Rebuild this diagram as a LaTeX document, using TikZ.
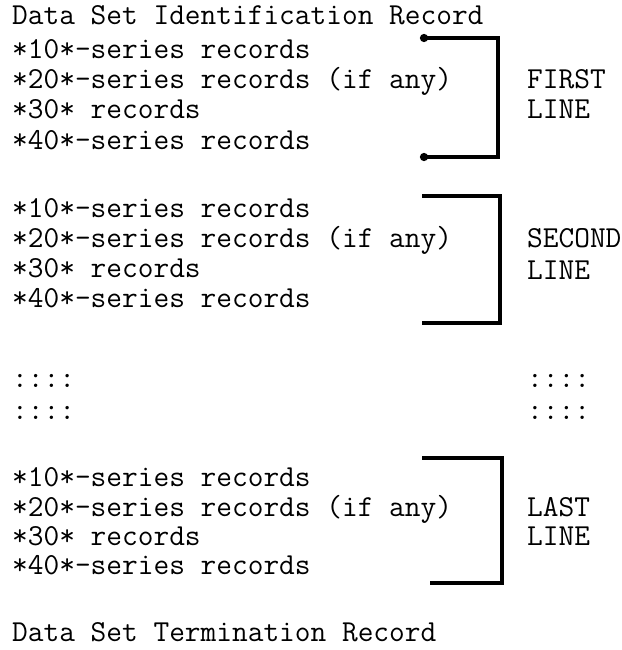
\documentclass[tikz,border=0pt]{standalone}
\usepackage{fontspec}
\usetikzlibrary{arrows.meta}
\newcommand{\recfont}{\fontsize{30.5}{32}\selectfont\ttfamily\addfontfeatures{FakeBold=3}}
\tikzset{
  rec/.style={anchor=west, inner sep=0pt, text height=18pt, text depth=0pt, font=\recfont},
  lab/.style={rec},
  brk/.style={line width=3.4pt, line join=miter},
  blobbrk/.style={brk, {Circle[length=8pt]}-{Circle[length=8pt]}}
}
\begin{document}
\begin{tikzpicture}[x=1pt, y=-1pt]
  \fill[white] (0,0) rectangle (621,650);
  \useasboundingbox (0,0) rectangle (621,650);

  \node[rec] (dsid) at (12,16) {Data Set Identification Record};

  % first line
  \node[rec] (fa) at (12,50)  {*10*-series records};
  \node[rec] (fb) at (12,80)  {*20*-series records (if any)};
  \node[rec] (fc) at (12,110) {*30* records};
  \node[rec] (fd) at (12,140) {*40*-series records};
  \node[lab] (flab) at (527,80) {FIRST};
  \node[lab] (flab2) at (527,110) {LINE};
  \coordinate (ftop) at (420,38);
  \coordinate (fbot) at (498,157);
  \draw[blobbrk] (ftop) -| (fbot) -- (fbot -| ftop);

  % second line
  \node[rec] (sa) at (12,208) {*10*-series records};
  \node[rec] (sb) at (12,238) {*20*-series records (if any)};
  \node[rec] (sc) at (12,268) {*30* records};
  \node[rec] (sd) at (12,298) {*40*-series records};
  \node[lab] (slab) at (527,238) {SECOND};
  \node[lab] (slab2) at (527,270) {LINE};
  \coordinate (stop) at (422,196);
  \coordinate (sbot) at (500,323);
  \draw[brk] (stop) -| (sbot) -- (sbot -| stop);

  % continuation dots
  \node[rec] (dl1) at (12,378) {::::};
  \node[rec] (dl2) at (12,410) {::::};
  \node[rec] (dr1) at (527,378) {::::};
  \node[rec] (dr2) at (527,410) {::::};

  % last line
  \node[rec] (la) at (12,477) {*10*-series records};
  \node[rec] (lb) at (12,507) {*20*-series records (if any)};
  \node[rec] (lc) at (12,536) {*30* records};
  \node[rec] (ld) at (12,565) {*40*-series records};
  \node[lab] (llab) at (527,507) {LAST};
  \node[lab] (llab2) at (527,536) {LINE};
  \coordinate (ltop) at (422,458);
  \coordinate (lbot) at (502,583);
  \coordinate (lend) at (430,583);
  \draw[brk] (ltop) -| (lbot) -- (lend);

  \node[rec] (dsterm) at (12,632) {Data Set Termination Record};
\end{tikzpicture}
\end{document}
